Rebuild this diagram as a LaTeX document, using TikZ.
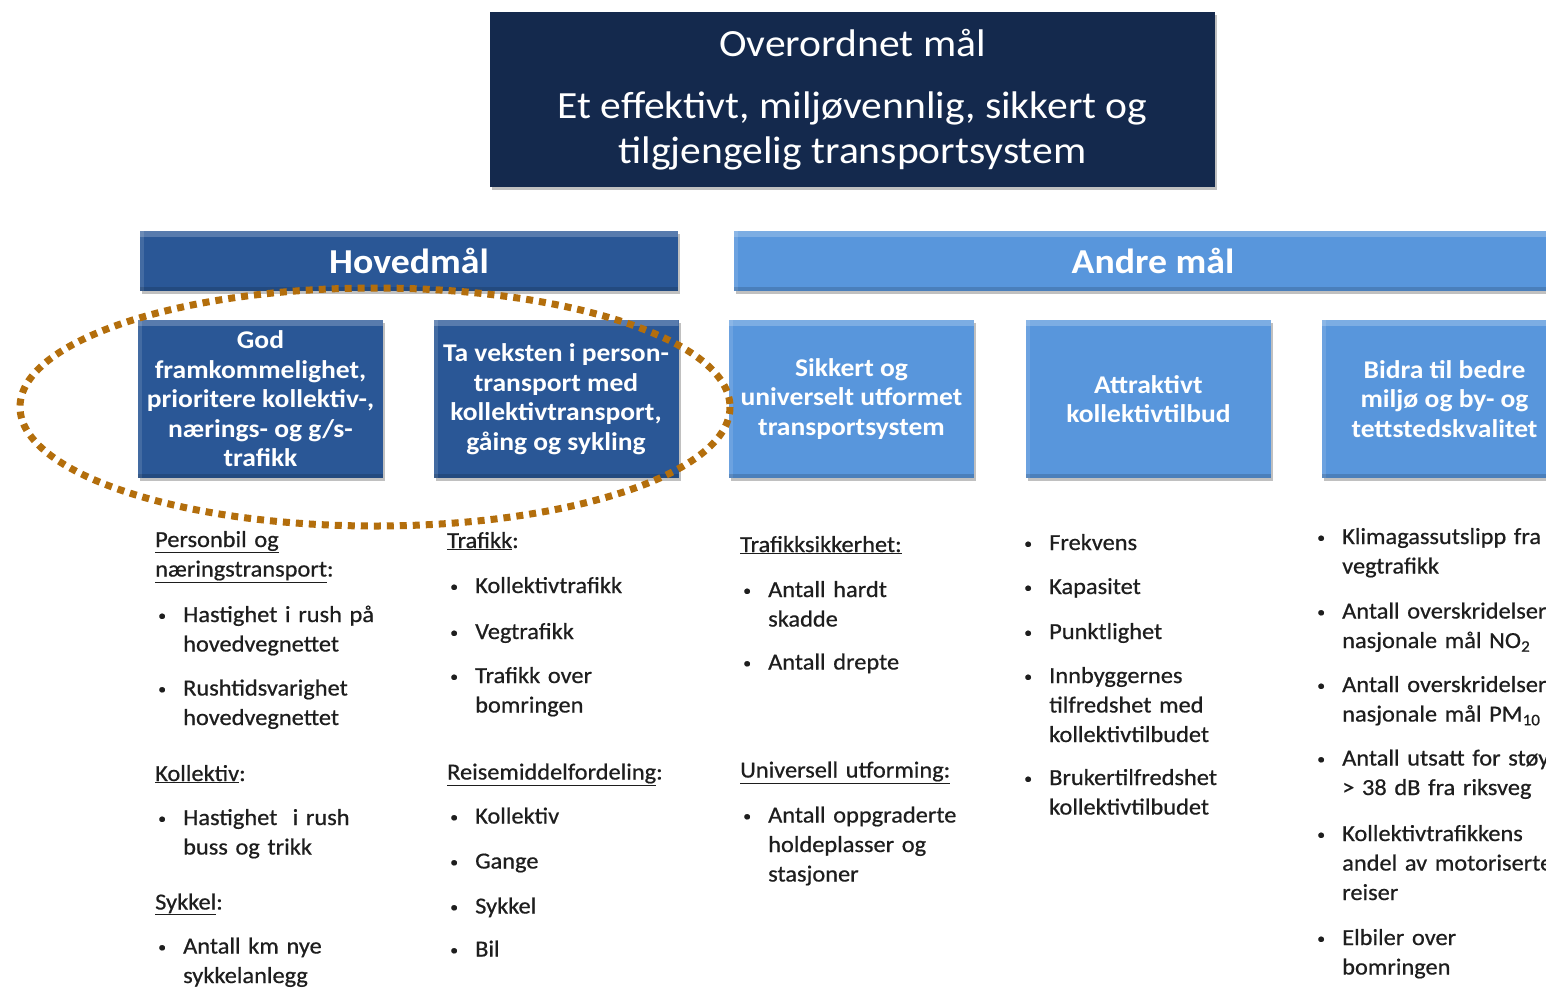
\documentclass[tikz,border=0pt]{standalone}
\usepackage{fontspec}
\setmainfont{Carlito}[FakeStretch=1.08]
\newfontfamily\listfont{Carlito}[FakeStretch=1.06, FakeBold=0.6]
\usetikzlibrary{shadows}

\definecolor{navy}{HTML}{14294D}
\definecolor{mainblue}{HTML}{2A5796}
\definecolor{lightblue}{HTML}{5896DC}
\definecolor{ring}{HTML}{B36E0C}
\definecolor{ink}{HTML}{1E1E1E}

% bullet item, continuation line, underlined heading
\newcommand\smallbullet{\raisebox{1.5pt}{\fontsize{15}{15}\selectfont\textbullet}}
\newcommand\itm[1]{\makebox[28pt][l]{\hspace{3pt}\smallbullet}#1}
\newcommand\cont[1]{\hspace*{28pt}#1}
\newcommand\hd[1]{\underline{#1}}

\tikzset{
  plainbox/.style={fill=#1, draw=none, inner sep=0pt, align=center, text=white,
    drop shadow={shadow xshift=2pt, shadow yshift=-3pt, opacity=0.35, fill=black!70}},
  goalbox/.style={plainbox=#1,
    path picture={
      \fill[white, opacity=0.22] (path picture bounding box.north west)
        rectangle ([yshift=-6pt]path picture bounding box.north east);
      \fill[white, opacity=0.12] (path picture bounding box.north west)
        rectangle ([xshift=4pt]path picture bounding box.south west);
      \fill[black, opacity=0.15] (path picture bounding box.south west)
        rectangle ([yshift=4pt]path picture bounding box.south east);
    }},
  headbar/.style={goalbox=#1, font=\bfseries\fontsize{35}{40}\selectfont},
  subgoal/.style={goalbox=#1, minimum width=245pt, minimum height=158pt,
    font=\bfseries\fontsize{25.5}{29.5}\selectfont},
  indicators/.style={anchor=base west, inner sep=0pt, text width=330pt, align=left,
    text=ink, font=\listfont\fontsize{23}{29.5}\selectfont},
}

\begin{document}
\begin{tikzpicture}[x=1pt, y=-1pt]
\useasboundingbox (0,0) rectangle (1546,988);
\fill[white] (0,0) rectangle (1546,988);
\clip (0,0) rectangle (1546,988);

% overall goal
\node[plainbox=navy, minimum width=725pt, minimum height=175pt,
      font=\fontsize{38.5}{45}\selectfont] (top) at (852.5,99.5)
  {Overordnet mål\\[17pt]Et effektivt, miljøvennlig, sikkert og\\tilgjengelig transportsystem};

% main goals
\node[headbar=mainblue, minimum width=538pt, minimum height=60pt] (hoved) at (409,261) {Hovedmål};
\node[subgoal=mainblue] (h1) at (260.5,399)
  {God\\framkommelighet,\\prioritere kollektiv-,\\nærings- og g/s-\\trafikk};
\node[subgoal=mainblue] (h2) at (556,399)
  {Ta veksten i person-\\transport med\\kollektivtransport,\\gåing og sykling};

% other goals
\node[headbar=lightblue, minimum width=838pt, minimum height=60pt] (andre) at (1153,261) {Andre mål};
\node[subgoal=lightblue] (a1) at (851.5,399)
  {Sikkert og\\universelt utformet\\transportsystem};
\node[subgoal=lightblue] (a2) at (1148.5,399)
  {Attraktivt\\kollektivtilbud};
\node[subgoal=lightblue] (a3) at (1444.5,399)
  {Bidra til bedre\\miljø og by- og\\tettstedskvalitet};

% indicator lists
\node[indicators] (c1) at (155,547) {%
  \hd{Personbil og}\\
  \hd{næringstransport}:\\[16pt]
  \itm{Hastighet i rush på}\\
  \cont{hovedvegnettet}\\[14.5pt]
  \itm{Rushtidsvarighet}\\
  \cont{hovedvegnettet}\\[26.5pt]
  \hd{Kollektiv}:\\[14.5pt]
  \itm{Hastighet\ \ i rush}\\
  \cont{buss og trikk}\\[25.5pt]
  \hd{Sykkel}:\\[14.5pt]
  \itm{Antall km nye}\\
  \cont{sykkelanlegg}};

\node[indicators] (c2) at (447,548) {%
  \hd{Trafikk}:\\[15.5pt]
  \itm{Kollektivtrafikk}\\[16.5pt]
  \itm{Vegtrafikk}\\[14.5pt]
  \itm{Trafikk over}\\
  \cont{bomringen}\\[37.5pt]
  \hd{Reisemiddelfordeling}:\\[14.5pt]
  \itm{Kollektiv}\\[15.5pt]
  \itm{Gange}\\[15.5pt]
  \itm{Sykkel}\\[13.5pt]
  \itm{Bil}};

\node[indicators] (c3) at (740,552) {%
  \hd{Trafikksikkerhet:}\\[15.5pt]
  \itm{Antall hardt}\\
  \cont{skadde}\\[13.5pt]
  \itm{Antall drepte}\\[78.5pt]
  \hd{Universell utforming:}\\[15.5pt]
  \itm{Antall oppgraderte}\\
  \cont{holdeplasser og}\\
  \cont{stasjoner}};

\node[indicators] (c4) at (1021,550) {%
  \itm{Frekvens}\\[14.5pt]
  \itm{Kapasitet}\\[15.5pt]
  \itm{Punktlighet}\\[14.5pt]
  \itm{Innbyggernes}\\
  \cont{tilfredshet med}\\
  \cont{kollektivtilbudet}\\[13.5pt]
  \itm{Brukertilfredshet}\\
  \cont{kollektivtilbudet}};

\node[indicators] (c5) at (1314,544) {%
  \itm{Klimagassutslipp fra}\\
  \cont{vegtrafikk}\\[15.5pt]
  \itm{Antall overskridelser}\\
  \cont{nasjonale mål NO\textsubscript{2}}\\[14.5pt]
  \itm{Antall overskridelser}\\
  \cont{nasjonale mål PM\textsubscript{10}}\\[14.5pt]
  \itm{Antall utsatt for støy}\\
  \cont{> 38 dB fra riksveg}\\[16.5pt]
  \itm{Kollektivtrafikkens}\\
  \cont{andel av motoriserte}\\
  \cont{reiser}\\[15.5pt]
  \itm{Elbiler over}\\
  \cont{bomringen}};

% dotted ring around the main goals
\draw[ring, line width=7pt, dash pattern=on 7pt off 6pt]
  (375,407) ellipse [x radius=355, y radius=119];
\end{tikzpicture}
\end{document}
